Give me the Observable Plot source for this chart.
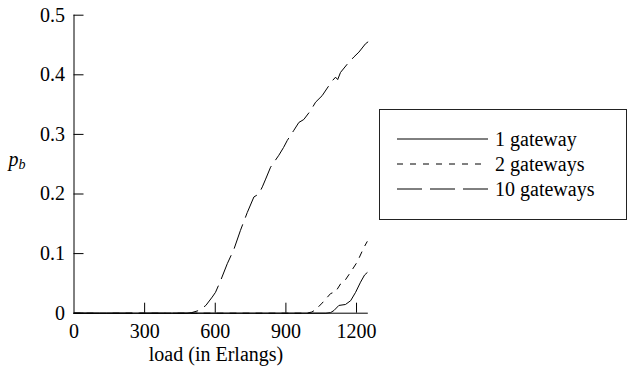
<!DOCTYPE html>
<html><head><meta charset="utf-8">
<script src="https://cdn.jsdelivr.net/npm/d3@7"></script>
<script src="https://cdn.jsdelivr.net/npm/@observablehq/plot@0.6"></script>
<style>
html,body{margin:0;padding:0;background:#fff;}
#chart{position:relative;width:636px;height:371px;font-family:"Liberation Serif",serif;font-size:20px;}
#legend{position:absolute;left:0;top:0;pointer-events:none;}
</style></head><body><div id="chart"></div>
<script>
const seriesNames = ["1 gateway", "2 gateways", "10 gateways"];

const load1 = [0, 1070, 1090, 1104, 1125, 1153, 1175, 1196, 1217, 1234, 1245];
const pb1   = [0, 0, 0.001, 0.0045, 0.013, 0.0146, 0.021, 0.035, 0.052, 0.064, 0.068];

const load2 = [0, 990, 1010, 1026, 1054, 1090, 1111, 1132, 1146, 1175, 1203, 1231, 1245];
const pb2   = [0, 0, 0.002, 0.0057, 0.017, 0.033, 0.036, 0.049, 0.052, 0.069, 0.086, 0.110, 0.120];

const load10 = [0, 480, 500, 530, 560, 587, 601, 622, 651, 679, 707, 736, 764, 785, 800, 814, 835, 849, 870, 890, 906, 934, 955, 976, 1005, 1026, 1054, 1083, 1097, 1111, 1120, 1132, 1161, 1189, 1210, 1238, 1248];
const pb10   = [0, 0, 0.001, 0.0045, 0.013, 0.027, 0.035, 0.054, 0.083, 0.107, 0.139, 0.169, 0.195, 0.200, 0.212, 0.225, 0.245, 0.253, 0.265, 0.278, 0.290, 0.307, 0.320, 0.325, 0.340, 0.354, 0.365, 0.382, 0.390, 0.396, 0.392, 0.404, 0.418, 0.430, 0.438, 0.452, 0.455];

const xTicks = [0, 300, 600, 900, 1200];
const yTicks = [0, 0.1, 0.2, 0.3, 0.4, 0.5];

const dashStyles = [null, "6,7", "25,8"];

const seriesData = [
  load1.map((l, i) => ({load: l, pb: pb1[i], series: seriesNames[0]})),
  load2.map((l, i) => ({load: l, pb: pb2[i], series: seriesNames[1]})),
  load10.map((l, i) => ({load: l, pb: pb10[i], series: seriesNames[2]}))
];

const fontName = "Liberation Serif";
const W = 636, H = 371;
const mL = 73.5, mR = 268.2, mT = 14.7, mB = 58.3;
const fmt = d => String(d);

const plot = Plot.plot({
  width: W, height: H,
  marginLeft: mL, marginRight: mR, marginTop: mT, marginBottom: mB,
  style: {fontFamily: fontName, fontSize: "20px", color: "#000", background: "#fff", overflow: "visible"},
  x: {domain: [0, 1250]},
  y: {domain: [0, 0.5]},
  marks: [
    Plot.axisX(xTicks, {tickSize: 0, tickPadding: 11, label: null, tickFormat: fmt, fontSize: 20}),
    Plot.axisX(xTicks.filter(d => d > 0), {tickSize: -10, tickFormat: () => "", label: null}),
    Plot.axisY(yTicks, {tickSize: 0, tickPadding: 9, label: null, tickFormat: fmt, fontSize: 20}),
    Plot.axisY(yTicks, {tickSize: -10, tickFormat: () => "", label: null}),
    Plot.ruleX([0], {stroke: "#000"}),
    Plot.ruleY([0], {stroke: "#000"}),
    ...seriesData.map((d, i) => Plot.line(d, {
      x: "load", y: "pb", stroke: "#000", strokeWidth: 1,
      strokeDasharray: dashStyles[i] || undefined
    }))
  ]
});

const chart = document.getElementById("chart");
chart.appendChild(plot);

const svg = d3.select(plot);
// x label
svg.append("text")
  .attr("x", 216).attr("y", 361)
  .attr("text-anchor", "middle")
  .attr("font-family", fontName).attr("font-size", 20).attr("fill", "#000")
  .text("load (in Erlangs)");
// y label p_b
const yl = svg.append("text")
  .attr("x", 17).attr("y", 166)
  .attr("font-family", fontName).attr("font-size", 20).attr("fill", "#000")
  .attr("font-style", "italic");
yl.append("tspan").text("p");
yl.append("tspan").attr("font-size", 14).attr("dy", 3).text("b");

// legend
const lg = d3.select(chart).append("svg")
  .attr("id", "legend").attr("width", W).attr("height", H);
lg.append("rect")
  .attr("x", 379.5).attr("y", 109.5).attr("width", 247).attr("height", 110)
  .attr("fill", "#fff").attr("stroke", "#222").attr("stroke-width", 1);
seriesNames.forEach((name, i) => {
  const y = 139 + 25 * i;
  lg.append("line")
    .attr("x1", 397).attr("x2", 488).attr("y1", y).attr("y2", y)
    .attr("stroke", "#000").attr("stroke-width", 1)
    .attr("stroke-dasharray", dashStyles[i]);
  lg.append("text")
    .attr("x", 495).attr("y", y + 7)
    .attr("font-family", fontName).attr("font-size", 20).attr("fill", "#000")
    .text(name);
});
</script></body></html>
